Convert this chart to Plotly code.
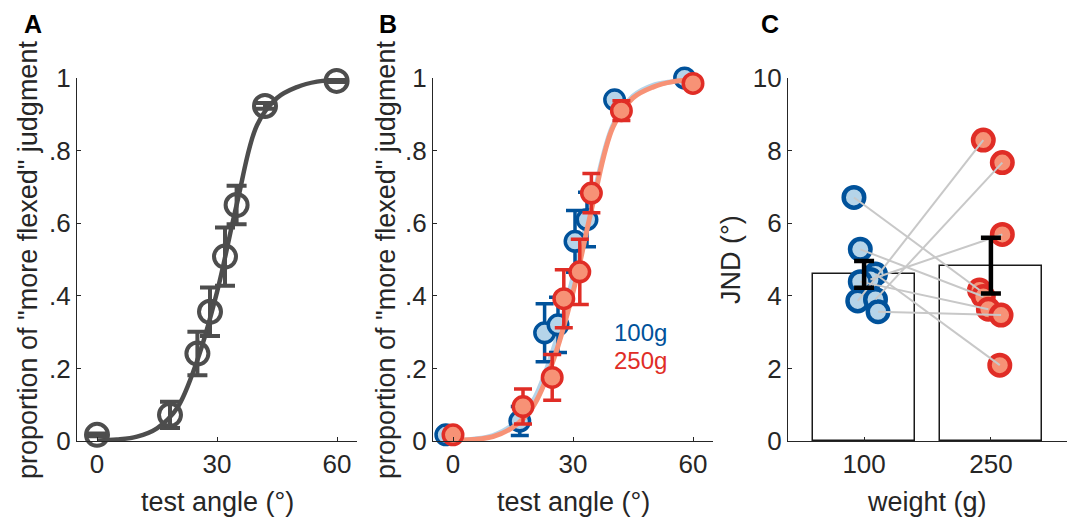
import plotly.graph_objects as go

# ---------------- data ----------------
# Panel A (all weights pooled)
angle_A = [0, 18.25, 25.1, 28.25, 32.0, 34.9, 42.0, 59.9]
prop_A = [0.017, 0.072, 0.241, 0.356, 0.508, 0.65, 0.923, 0.992]
err_A = [0.004, 0.036, 0.06, 0.067, 0.08, 0.053, 0.008, 0.003]

# Panel B (100 g / 250 g)
angle_100 = [-1.8, 16.7, 22.9, 26.25, 30.5, 33.5, 40.4, 57.9]
prop_100 = [0.017, 0.055, 0.298, 0.32, 0.55, 0.61, 0.94, 1.0]
err_100 = [0.005, 0.04, 0.08, 0.076, 0.085, 0.075, 0.01, 0.004]

angle_250 = [0, 17.5, 24.8, 27.7, 31.7, 34.6, 42.1, 60]
prop_250 = [0.017, 0.095, 0.175, 0.392, 0.466, 0.683, 0.91, 0.985]
err_250 = [0.004, 0.048, 0.063, 0.08, 0.09, 0.054, 0.027, 0.003]

# fitted psychometric curves
curve_angle = [0, 5, 10, 15, 20, 25, 30, 35, 40, 45, 50, 55, 60]
fit_A = [0.001, 0.004, 0.012, 0.035, 0.09, 0.22, 0.41, 0.655, 0.87, 0.945, 0.975, 0.99, 0.995]
fit_100 = [0.001, 0.005, 0.015, 0.045, 0.11, 0.25, 0.45, 0.67, 0.87, 0.95, 0.98, 0.99, 0.996]
fit_250 = [0.001, 0.004, 0.012, 0.038, 0.095, 0.22, 0.41, 0.655, 0.865, 0.945, 0.975, 0.99, 0.995]

# Panel C (JND per participant)
weights = ["100", "250"]
jnd_mean = [4.59, 4.83]
jnd_sem = [0.37, 0.77]
jnd_100 = [6.71, 5.28, 4.60, 4.45, 4.39, 3.86, 3.90, 3.56]
jnd_250 = [4.16, 3.98, 2.09, 5.69, 3.63, 8.29, 7.67, 3.47]
jitter_100 = [-0.08, -0.03, 0.09, 0.05, -0.03, -0.05, 0.09, 0.11]
jitter_250 = [-0.09, -0.06, 0.07, 0.09, -0.02, -0.06, 0.09, 0.08]

prop_ticks = [0, 0.2, 0.4, 0.6, 0.8, 1]
prop_ticktext = ["0", ".2", ".4", ".6", ".8", "1"]
angle_ticks = [0, 30, 60]
jnd_ticks = [0, 2, 4, 6, 8, 10]

# ---------------- styles ----------------
W, H = 1073, 517
TXT = "#262626"
GRAY = "#4d4d4d"
BLUE = "#00529b"
LBLUE = "#b5d4e9"
RED = "#e02d26"
SALMON = "#f79276"
FONT = "Liberation Sans, Arial, sans-serif"
FS = 26
FST = 27


def px_x(p):
    return p / W


def px_y(p):
    return 1 - p / H


fig = go.Figure()

# ---- Panel A ----
fig.add_trace(go.Scatter(x=curve_angle, y=fit_A, mode="lines", line=dict(color=GRAY, width=4.5, shape="spline"),
                         xaxis="x", yaxis="y", showlegend=False, cliponaxis=False, hoverinfo="skip"))
fig.add_trace(go.Scatter(x=angle_A, y=prop_A, mode="markers",
                         marker=dict(symbol="circle-open", size=22, color=GRAY, line=dict(width=4, color=GRAY)),
                         error_y=dict(type="data", array=err_A, color=GRAY, thickness=4, width=10),
                         xaxis="x", yaxis="y", showlegend=False, cliponaxis=False))

# ---- Panel B ----
fig.add_trace(go.Scatter(x=curve_angle, y=fit_100, mode="lines", line=dict(color=LBLUE, width=5, shape="spline"),
                         xaxis="x2", yaxis="y2", showlegend=False, cliponaxis=False, hoverinfo="skip"))
fig.add_trace(go.Scatter(x=angle_100, y=prop_100, mode="markers",
                         marker=dict(symbol="circle", size=19.5, color=LBLUE, line=dict(width=3.5, color=BLUE)),
                         error_y=dict(type="data", array=err_100, color=BLUE, thickness=3.5, width=9),
                         xaxis="x2", yaxis="y2", showlegend=False, cliponaxis=False))
fig.add_trace(go.Scatter(x=curve_angle, y=fit_250, mode="lines", line=dict(color=SALMON, width=5, shape="spline"),
                         xaxis="x2", yaxis="y2", showlegend=False, cliponaxis=False, hoverinfo="skip"))
fig.add_trace(go.Scatter(x=angle_250, y=prop_250, mode="markers",
                         marker=dict(symbol="circle", size=19.5, color=SALMON, line=dict(width=3.5, color=RED)),
                         error_y=dict(type="data", array=err_250, color=RED, thickness=3.5, width=9),
                         xaxis="x2", yaxis="y2", showlegend=False, cliponaxis=False))

# ---- Panel C ----
pos = [1, 2]
fig.add_trace(go.Bar(x=pos, y=jnd_mean, width=0.8, marker=dict(color="white", line=dict(color="#1a1a1a", width=1.5)),
                     xaxis="x3", yaxis="y3", showlegend=False))
x100 = [1 + j for j in jitter_100]
x250 = [2 + j for j in jitter_250]
fig.add_trace(go.Scatter(x=x100, y=jnd_100, mode="markers",
                         marker=dict(symbol="circle", size=20.5, color=LBLUE, line=dict(width=4.5, color=BLUE)),
                         xaxis="x3", yaxis="y3", showlegend=False, cliponaxis=False))
fig.add_trace(go.Scatter(x=x250, y=jnd_250, mode="markers",
                         marker=dict(symbol="circle", size=20.5, color=SALMON, line=dict(width=4.5, color=RED)),
                         xaxis="x3", yaxis="y3", showlegend=False, cliponaxis=False))
lx, ly = [], []
for a, b, va, vb in zip(x100, x250, jnd_100, jnd_250):
    lx += [a, b, None]
    ly += [va, vb, None]
fig.add_trace(go.Scatter(x=lx, y=ly, mode="lines", line=dict(color="#c8c8c8", width=2),
                         xaxis="x3", yaxis="y3", showlegend=False, hoverinfo="skip"))
fig.add_trace(go.Scatter(x=pos, y=jnd_mean, mode="markers", marker=dict(size=1, color="black", opacity=0),
                         error_y=dict(type="data", array=jnd_sem, color="black", thickness=4.5, width=10),
                         xaxis="x3", yaxis="y3", showlegend=False, cliponaxis=False))

# ---------------- axes ----------------
ydom = [px_y(441), px_y(78)]
common = dict(showline=True, linecolor=TXT, linewidth=1.3, ticks="inside", ticklen=4, tickwidth=1.3,
              tickcolor=TXT, showgrid=False, zeroline=False, mirror=False, automargin=False,
              tickfont=dict(family=FONT, size=FS, color=TXT))

fig.update_layout(
    width=W, height=H, margin=dict(l=0, r=0, t=0, b=0, pad=0, autoexpand=False),
    paper_bgcolor="white", plot_bgcolor="white",
    font=dict(family=FONT, size=FS, color=TXT),
    bargap=0,
    xaxis=dict(domain=[px_x(77), px_x(357)], range=[-5, 65], tickvals=angle_ticks, anchor="y", **common),
    yaxis=dict(domain=ydom, range=[0, 1], tickvals=prop_ticks, ticktext=prop_ticktext, anchor="x", **common),
    xaxis2=dict(domain=[px_x(433), px_x(713)], range=[-5, 65], tickvals=angle_ticks, anchor="y2", **common),
    yaxis2=dict(domain=ydom, range=[0, 1], tickvals=prop_ticks, ticktext=prop_ticktext, anchor="x2", **common),
    xaxis3=dict(domain=[px_x(788), px_x(1067)], range=[0.4, 2.6], tickvals=pos, ticktext=weights, anchor="y3", **common),
    yaxis3=dict(domain=ydom, range=[0, 10], tickvals=jnd_ticks, anchor="x3", **common),
)

ann = []
ytitle = 'proportion of "more flexed" judgment'
for xc, t in [(28, ytitle), (386, ytitle), (731, "JND (°)")]:
    ann.append(dict(text=t, x=px_x(xc), y=px_y(260), xref="paper", yref="paper", textangle=-90,
                    showarrow=False, xanchor="center", yanchor="middle", font=dict(family=FONT, size=FST, color=TXT)))
for xc, t in [(217, "test angle (°)"), (573, "test angle (°)"), (927, "weight (g)")]:
    ann.append(dict(text=t, x=px_x(xc), y=px_y(502), xref="paper", yref="paper",
                    showarrow=False, xanchor="center", yanchor="middle", font=dict(family=FONT, size=FST, color=TXT)))
for xc, t in [(33, "A"), (388, "B"), (770, "C")]:
    ann.append(dict(text="<b>%s</b>" % t, x=px_x(xc), y=px_y(24), xref="paper", yref="paper",
                    showarrow=False, xanchor="center", yanchor="middle", font=dict(family=FONT, size=25, color="black")))
ann.append(dict(text="100g", x=px_x(640), y=px_y(332), xref="paper", yref="paper", showarrow=False, xanchor="center",
                yanchor="middle", font=dict(family=FONT, size=24, color=BLUE)))
ann.append(dict(text="250g", x=px_x(640), y=px_y(360), xref="paper", yref="paper", showarrow=False, xanchor="center",
                yanchor="middle", font=dict(family=FONT, size=24, color=RED)))
fig.update_layout(annotations=ann)

fig.write_html("out.html", config={"displayModeBar": False},
               post_script="document.body.style.margin='0';")
